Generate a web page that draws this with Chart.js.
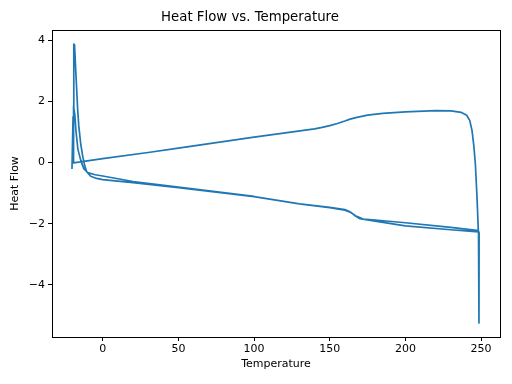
<!DOCTYPE html>
<html lang="en">
<head>
<meta charset="UTF-8">
<title>Heat Flow vs. Temperature</title>
<script src="https://cdn.jsdelivr.net/npm/chart.js"></script>
<style>
  body { margin: 0; padding: 0; background: #fff; }
  #wrap { width: 512px; height: 384px; }
</style>
</head>
<body>
<div id="wrap"><canvas id="chart" width="512" height="384"></canvas></div>
<script>
  // first heating run (big start-up spike, then lower band)
  const heat1T = [-20.3, -19.6, -19.1, -18.6, -17.8, -17.2, -16.5, -15.8, -14.5, -13.2, -11.9, -10.6, -7.9, -4, 0, 20, 50, 100, 130, 150, 160, 164, 167, 170, 180, 200, 230, 248.3, 248.6, 248.7];
  const heat1Q = [-0.21, 1.5, 3.88, 3.85, 3.0, 2.4, 1.7, 1.2, 0.6, 0.2, -0.1, -0.3, -0.45, -0.52, -0.56, -0.66, -0.82, -1.12, -1.35, -1.48, -1.56, -1.63, -1.75, -1.84, -1.92, -2.07, -2.2, -2.27, -5.25, -2.3];
  // cooling run (upper line)
  const coolT = [248.2, 247.3, 246.2, 245.2, 244, 242.5, 240.5, 237, 230, 220, 200, 185, 175, 168, 164, 160, 155, 150, 145, 140, 100, 50, 30, 0, -19.2];
  const coolQ = [-2.25, -1.13, -0.03, 0.55, 1.05, 1.38, 1.55, 1.64, 1.69, 1.70, 1.66, 1.61, 1.55, 1.48, 1.43, 1.36, 1.28, 1.21, 1.15, 1.1, 0.83, 0.47, 0.33, 0.13, -0.01];
  // second heating run
  const heat2T = [-19.4, -19.1, -18.4, -17.6, -16.4, -14.5, -12.5, -9.9, -5, 0, 20, 50, 100, 130, 150, 160, 163, 167, 172, 180, 200, 230, 248.5];
  const heat2Q = [0.3, 1.85, 1.55, 1.0, 0.44, 0.07, -0.2, -0.33, -0.4, -0.44, -0.62, -0.8, -1.11, -1.35, -1.47, -1.54, -1.6, -1.74, -1.85, -1.88, -1.97, -2.12, -2.23];

  const xTicks = [0, 50, 100, 150, 200, 250];
  const yTicks = [-4, -2, 0, 2, 4];

  const points = [];
  [[heat1T, heat1Q], [coolT, coolQ], [heat2T, heat2Q]].forEach(([t, q]) => {
    for (let i = 0; i < t.length; i++) points.push({ x: t[i], y: q[i] });
  });

  const font = "'DejaVu Sans', sans-serif";

  // matplotlib style box around the axes
  const boxPlugin = {
    id: 'box',
    afterDraw(chart) {
      const a = chart.chartArea;
      const ctx = chart.ctx;
      ctx.save();
      ctx.strokeStyle = '#000';
      ctx.lineWidth = 1;
      ctx.strokeRect(Math.round(a.left) + 0.5, Math.round(a.top) + 0.5, Math.round(a.right - a.left), Math.round(a.bottom - a.top));
      ctx.restore();
    }
  };

  const ctx = document.getElementById('chart').getContext('2d');
  new Chart(ctx, {
    type: 'scatter',
    data: {
      datasets: [{
        data: points,
        showLine: true,
        borderColor: '#1f77b4',
        borderWidth: 1.7,
        borderJoinStyle: 'round',
        pointRadius: 0,
        tension: 0,
        fill: false
      }]
    },
    options: {
      responsive: false,
      animation: false,
      layout: { padding: { left: 0, right: 12, top: 0, bottom: 0 } },
      plugins: {
        legend: { display: false },
        tooltip: { enabled: false },
        title: {
          display: true,
          text: 'Heat Flow vs. Temperature',
          color: '#000',
          font: { family: font, size: 13.3, weight: 'normal' },
          padding: { top: 10, bottom: 4 }
        }
      },
      scales: {
        x: {
          type: 'linear',
          min: -33.5,
          max: 262.5,
          afterBuildTicks: s => { s.ticks = xTicks.map(v => ({ value: v })); },
          afterFit: s => { s.height = 47; },
          grid: { display: true, drawOnChartArea: false, drawTicks: true, tickLength: 4, color: '#000' },
          border: { display: false },
          ticks: { color: '#000', font: { family: font, size: 11 }, padding: 2, maxRotation: 0 },
          title: { display: true, text: 'Temperature', color: '#000', font: { family: font, size: 11 }, padding: { top: 1, bottom: 13 } }
        },
        y: {
          type: 'linear',
          min: -5.71,
          max: 4.34,
          afterBuildTicks: s => { s.ticks = yTicks.map(v => ({ value: v })); },
          afterFit: s => { s.width = 52; },
          grid: { display: true, drawOnChartArea: false, drawTicks: true, tickLength: 4, color: '#000' },
          border: { display: false },
          ticks: {
            color: '#000', font: { family: font, size: 11 }, padding: 3,
            callback: v => v < 0 ? '\u2212' + Math.abs(v) : String(v)
          },
          title: { display: true, text: 'Heat Flow', color: '#000', font: { family: font, size: 11 }, padding: { top: 8.5, bottom: 0 } }
        }
      }
    },
    plugins: [boxPlugin]
  });
</script>
</body>
</html>
